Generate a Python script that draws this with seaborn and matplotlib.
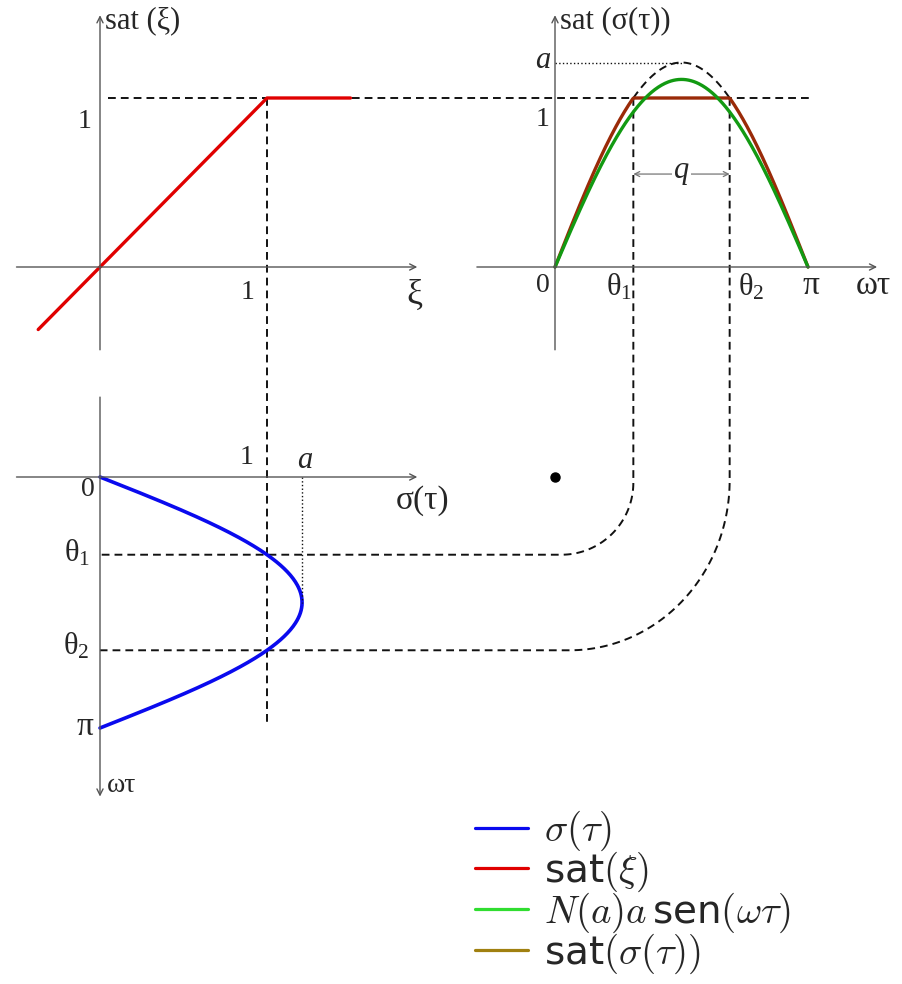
import numpy as np
import matplotlib
matplotlib.use("Agg")
import matplotlib.pyplot as plt
from matplotlib.lines import Line2D
import seaborn as sns

sns.set_theme(style="white")
plt.rcParams["font.family"] = ["Liberation Serif", "DejaVu Serif"]
plt.rcParams["mathtext.fontset"] = "custom"
plt.rcParams["mathtext.rm"] = "Liberation Serif"
plt.rcParams["mathtext.it"] = "Liberation Serif:italic"

# ---- values ----
amp_a = 1.21            # amplitude a of sigma(tau)
gain_amp = 1.11         # N(a)*a, amplitude of the describing-function sine
sat_level = 1.0
xi_points = [-0.37, 0.0, 1.0, 1.5]
sat_points = [-0.37, 0.0, 1.0, 1.0]

theta1 = np.arcsin(sat_level / amp_a)
theta2 = np.pi - theta1
wt = np.linspace(0, np.pi, 300)
sigma = amp_a * np.sin(wt)
sat_sigma = np.clip(sigma, -sat_level, sat_level)
describing = gain_amp * np.sin(wt)
wt_arc = np.linspace(theta1, theta2, 100)

C_BLUE, C_RED = "#0a0aee", "#e00000"
C_GREEN, C_BROWN = "#129a12", "#9a2a08"
C_GREEN_LEG, C_OLIVE_LEG = "#30dd30", "#a08010"
AX_C = "#555555"
DASH = dict(color="#111111", lw=1.4, ls=(0, (4, 2.6)))
FS = 20

W, H = 902, 984
fig = plt.figure(figsize=(W / 100, H / 100), dpi=100)
ov = fig.add_axes([0, 0, 1, 1])
ov.set_xlim(0, W)
ov.set_ylim(H, 0)
ov.axis("off")


def panel(ox, oy, sx, sy, box, down=False):
    x0, y0, x1, y1 = box
    ax = fig.add_axes([x0 / W, 1 - y1 / H, (x1 - x0) / W, (y1 - y0) / H])
    ax.set_xlim((x0 - ox) / sx, (x1 - ox) / sx)
    if down:
        ax.set_ylim((y1 - oy) / sy, (y0 - oy) / sy)
    else:
        ax.set_ylim((oy - y1) / sy, (oy - y0) / sy)
    ax.axis("off")
    return ax


def arrow(ax, p0, p1):
    ax.annotate("", xy=p1, xytext=p0, annotation_clip=False,
                arrowprops=dict(arrowstyle="->", color=AX_C, lw=1.0,
                                shrinkA=0, shrinkB=0, mutation_scale=11))


def to_px(ax, x, y):
    return ov.transData.inverted().transform(ax.transData.transform((x, y)))


tl = panel(100, 267, 167, 169, (0, 0, 440, 370))
tr = panel(555, 267, 253 / np.pi, 169, (460, 0, 902, 370))
bt = panel(100, 477, 167, 251 / np.pi, (0, 380, 460, 810), down=True)

# ---- saturation characteristic ----
arrow(tl, (-0.5, 0), (1.90, 0))
arrow(tl, (0, -0.49), (0, 1.49))
sns.lineplot(x=xi_points, y=sat_points, ax=tl, color=C_RED, lw=2.4,
             sort=False, estimator=None, legend=False)
tl.text(0.03, 1.46, "sat (ξ)", fontsize=FS + 2, ha="left", va="center")
tl.text(-0.05, 0.86, "1", fontsize=FS, ha="right", va="center")
tl.text(0.886, -0.15, "1", fontsize=FS, ha="center", va="center")
tl.text(1.88, -0.17, "ξ", fontsize=FS + 6, ha="center", va="center")

# ---- time responses ----
arrow(tr, (-0.97, 0), (4.0, 0))
arrow(tr, (0, -0.49), (0, 1.49))
tr.plot(wt_arc, amp_a * np.sin(wt_arc), **DASH)
sns.lineplot(x=wt, y=sat_sigma, ax=tr, color=C_BROWN, lw=2.4,
             sort=False, estimator=None, legend=False)
sns.lineplot(x=wt, y=describing, ax=tr, color=C_GREEN, lw=2.4,
             sort=False, estimator=None, legend=False)
tr.plot([0, np.pi / 2], [amp_a, amp_a], color="#111111", lw=1.0, ls=":")
tr.annotate("", xy=(theta2, 0.55), xytext=(theta1, 0.55),
            arrowprops=dict(arrowstyle="<->", color="#777777", lw=0.9,
                            shrinkA=0, shrinkB=0, mutation_scale=9))
tr.text(np.pi / 2, 0.56, "$q$", fontsize=FS + 2, ha="center", va="center",
        bbox=dict(facecolor="white", edgecolor="none", pad=1))
tr.text(0.06, 1.46, "sat (σ(τ))", fontsize=FS + 2, ha="left", va="center")
tr.text(-0.15, 1.22, "$a$", fontsize=FS + 2, ha="center", va="center")
tr.text(-0.16, 0.87, "1", fontsize=FS, ha="center", va="center")
tr.text(-0.15, -0.11, "0", fontsize=FS, ha="center", va="center")
tr.text(0.80, -0.12, "θ$_1$", fontsize=FS + 2, ha="center", va="center")
tr.text(2.44, -0.12, "θ$_2$", fontsize=FS + 2, ha="center", va="center")
tr.text(3.18, -0.11, "π", fontsize=FS + 4, ha="center", va="center")
tr.text(3.95, -0.11, "ωτ", fontsize=FS + 4, ha="center", va="center")

# ---- input sigma(tau) against omega*tau ----
arrow(bt, (-0.5, 0), (1.90, 0))
arrow(bt, (0, -1.0), (0, 4.0))
sns.lineplot(x=sigma, y=wt, ax=bt, color=C_BLUE, lw=2.6,
             sort=False, estimator=None, legend=False)
bt.plot([amp_a, amp_a], [0, np.pi / 2], color="#111111", lw=1.0, ls=":")
bt.text(0.88, -0.24, "1", fontsize=FS, ha="center", va="center")
bt.text(1.23, -0.21, "$a$", fontsize=FS + 2, ha="center", va="center")
bt.text(1.93, 0.30, "σ(τ)", fontsize=FS + 4, ha="center", va="center")
bt.text(-0.07, 0.16, "0", fontsize=FS, ha="center", va="center")
bt.text(-0.14, 0.95, "θ$_1$", fontsize=FS + 2, ha="center", va="center")
bt.text(-0.14, 2.12, "θ$_2$", fontsize=FS + 2, ha="center", va="center")
bt.text(-0.09, 3.13, "π", fontsize=FS + 4, ha="center", va="center")
bt.text(0.04, 3.86, "ωτ", fontsize=FS, ha="left", va="center")

# ---- projection guides ----
p, q = to_px(tl, 0.05, sat_level), to_px(tr, 3.19, sat_level)
ov.plot([p[0], q[0]], [p[1], q[1]], **DASH)
p, q = to_px(tl, 1.0, sat_level), to_px(bt, 1.0, 3.07)
ov.plot([p[0], q[0]], [p[1], q[1]], **DASH)


def elbow(th, rx, ry):
    p = to_px(tr, th, sat_level)
    q = to_px(bt, 0, th)
    cx, cy = p[0] - rx, q[1] - ry
    phi = np.linspace(0, np.pi / 2, 60)
    xs = np.concatenate([[p[0]], cx + rx * np.cos(phi), [q[0]]])
    ys = np.concatenate([[p[1]], cy + ry * np.sin(phi), [q[1]]])
    ov.plot(xs, ys, **DASH)


elbow(theta1, 72, 72)
elbow(theta2, 160, 170)

o_tr, o_bt = to_px(tr, 0, 0), to_px(bt, 0, 0)
ov.plot([o_tr[0]], [o_bt[1]], "o", color="black", ms=6.5)

# ---- legend ----
handles = [Line2D([], [], color=C_BLUE, lw=2.3),
           Line2D([], [], color=C_RED, lw=2.3),
           Line2D([], [], color=C_GREEN_LEG, lw=2.3),
           Line2D([], [], color=C_OLIVE_LEG, lw=2.3)]
labels = [r"$\sigma(\tau)$", r"sat$(\xi)$",
          r"$N(a)a\,$sen$(\omega\tau)$", r"sat$(\sigma(\tau))$"]
leg = ov.legend(handles, labels, loc="upper left",
                bbox_to_anchor=(475, 809), bbox_transform=ov.transData,
                frameon=False, prop=dict(family="DejaVu Sans", size=28),
                handlelength=1.37, handletextpad=0.4, labelspacing=-0.09,
                borderpad=0, borderaxespad=0)
for t in leg.get_texts():
    t.set_math_fontfamily("cm")

fig.savefig("out.png", dpi=100, facecolor="white")
